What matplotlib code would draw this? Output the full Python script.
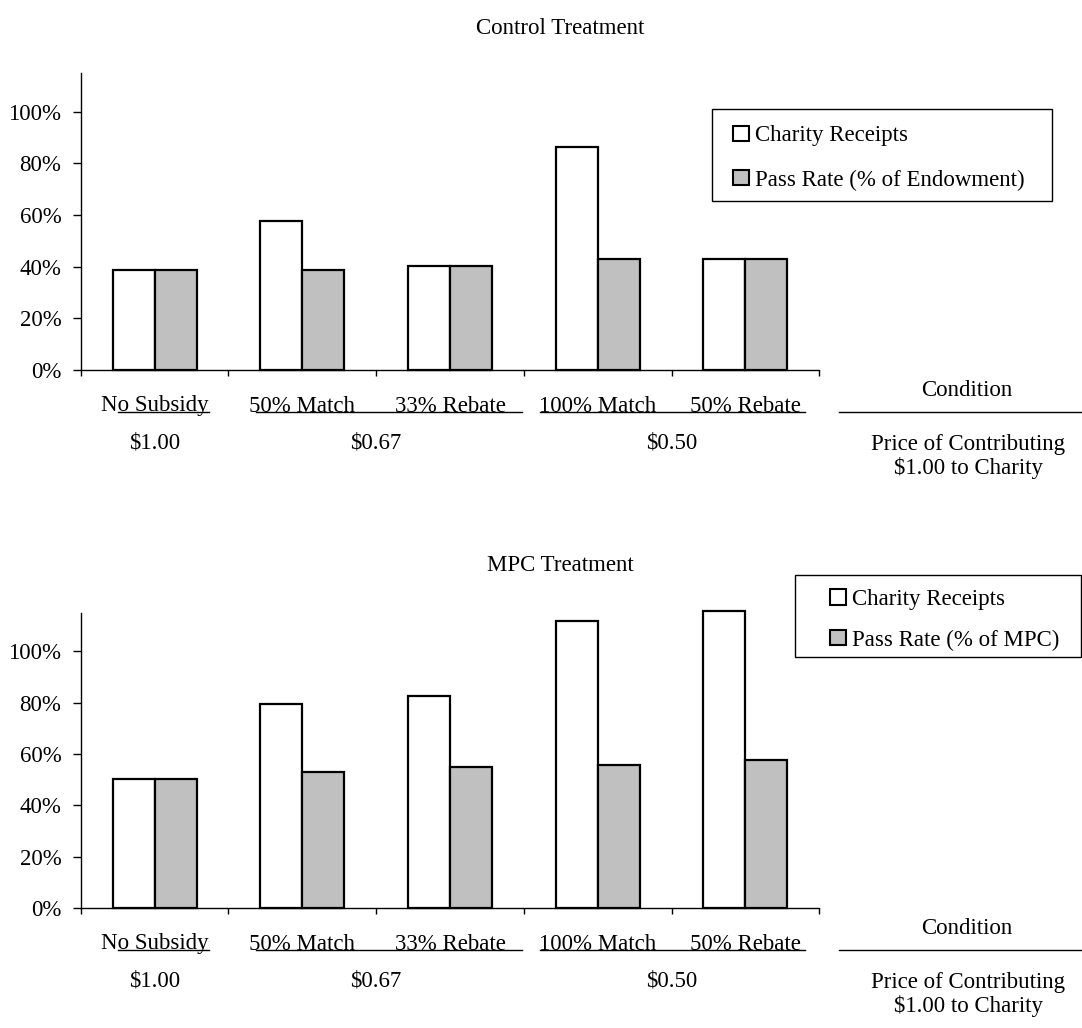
import matplotlib
matplotlib.use("Agg")
import matplotlib.pyplot as plt
from matplotlib.patches import Patch, Rectangle
from matplotlib.lines import Line2D
from matplotlib.ticker import FuncFormatter
import matplotlib.transforms as mtransforms

plt.rcParams['font.family'] = ['Liberation Serif', 'DejaVu Serif']

# ---------------- data ----------------
categories = ["No Subsidy", "50% Match", "33% Rebate", "100% Match", "50% Rebate"]
price_labels = ["$1.00", "$0.67", "$0.50"]
price_groups = [[0], [1, 2], [3, 4]]

control_receipts = [0.386, 0.576, 0.402, 0.865, 0.429]
control_pass = [0.386, 0.386, 0.404, 0.431, 0.429]
mpc_receipts = [0.501, 0.794, 0.826, 1.118, 1.157]
mpc_pass = [0.501, 0.529, 0.549, 0.559, 0.578]

yticks = [0, 0.2, 0.4, 0.6, 0.8, 1.0]
series_labels = ["Charity Receipts"]
pass_labels = ["Pass Rate (% of Endowment)", "Pass Rate (% of MPC)"]
titles = ["Control Treatment", "MPC Treatment"]

# ---------------- layout ----------------
W, H = 1082, 1028
FS = 16.5
GREY = "#C0C0C0"
fig = plt.figure(figsize=(W / 100, H / 100), dpi=100)


def fx(px):
    return px / W


def fy(py):
    return 1 - py / H


# group underline spans (data x units) - layout only
underline_spans = [(-0.25, 0.37), (0.69, 2.49), (2.61, 4.40)]


def panel(ax_top_px, ax_bot_px, receipts, passrate, title, pass_label,
          legend_box, legend_anchor, title_y):
    ax = fig.add_axes([fx(80.7), fy(ax_bot_px), fx(819.3 - 80.7),
                       (ax_bot_px - ax_top_px) / H])
    x = list(range(len(categories)))
    bw = 0.284
    ax.bar([i - bw / 2 for i in x], receipts, width=bw, color="white",
           edgecolor="black", linewidth=1.6, clip_on=False, zorder=3)
    ax.bar([i + bw / 2 for i in x], passrate, width=bw, color=GREY,
           edgecolor="black", linewidth=1.6, clip_on=False, zorder=3)
    ax.set_xlim(-0.5, len(categories) - 0.5)
    ax.set_ylim(0, 1.15)
    ax.set_yticks(yticks)
    ax.yaxis.set_major_formatter(FuncFormatter(lambda v, p: f"{v * 100:.0f}%"))
    ax.set_xticks([i - 0.5 for i in range(len(categories) + 1)])
    ax.set_xticklabels([])
    ax.tick_params(axis="y", direction="out", length=6, width=1,
                   labelsize=FS, pad=8)
    ax.tick_params(axis="x", direction="out", length=4.5, width=1)
    for s in ["top", "right"]:
        ax.spines[s].set_visible(False)
    for s in ["left", "bottom"]:
        ax.spines[s].set_linewidth(1)
    ax.patch.set_alpha(0)

    base = ax_bot_px
    trans = mtransforms.blended_transform_factory(ax.transData, fig.transFigure)
    # category labels
    for i, c in enumerate(categories):
        ax.text(i, fy(base + 41.5), c, transform=trans, ha="center",
                va="baseline", fontsize=FS)
    # underlines
    for (a, b) in underline_spans:
        ax.add_line(Line2D([a, b], [fy(base + 42.3)] * 2, transform=trans,
                           color="black", lw=1, clip_on=False))
    # price labels
    for lab, grp in zip(price_labels, price_groups):
        ax.text(sum(grp) / len(grp), fy(base + 73), lab, transform=trans,
                ha="center", va="center", fontsize=FS)
    # right side labels
    fig.text(fx(967), fy(base + 26), "Condition", ha="center",
             va="baseline", fontsize=FS)
    fig.add_artist(Line2D([fx(839), fx(1082)], [fy(base + 42)] * 2,
                          transform=fig.transFigure, color="black", lw=1))
    fig.text(fx(968), fy(base + 80), "Price of Contributing", ha="center",
             va="baseline", fontsize=FS)
    fig.text(fx(968), fy(base + 104), "$1.00 to Charity", ha="center",
             va="baseline", fontsize=FS)

    # title
    fig.text(fx(560), fy(title_y), title, ha="center", va="baseline",
             fontsize=FS)

    # legend
    x0, y0, x1, y1 = legend_box
    fig.add_artist(Rectangle((fx(x0), fy(y1)), fx(x1 - x0), (y1 - y0) / H,
                             transform=fig.transFigure, fill=False,
                             edgecolor="black", lw=1))
    handles = [Patch(facecolor="white", edgecolor="black", lw=1.5),
               Patch(facecolor=GREY, edgecolor="black", lw=1.5)]
    fig.legend(handles, [series_labels[0], pass_label], loc="upper left",
               bbox_to_anchor=(fx(legend_anchor[0]), fy(legend_anchor[1])),
               bbox_transform=fig.transFigure, frameon=False, fontsize=FS,
               borderpad=0, borderaxespad=0, handlelength=0.68,
               handleheight=0.68, handletextpad=0.3,
               labelspacing=legend_anchor[2])
    return ax


panel(73, 370, control_receipts, control_pass, titles[0], pass_labels[0],
      (712, 109, 1052, 201), (733, 125.5, 1.0), 34)
panel(613, 908, mpc_receipts, mpc_pass, titles[1], pass_labels[1],
      (795, 575, 1081, 657), (830, 589, 0.85), 571)

fig.savefig("out.png", dpi=100)
